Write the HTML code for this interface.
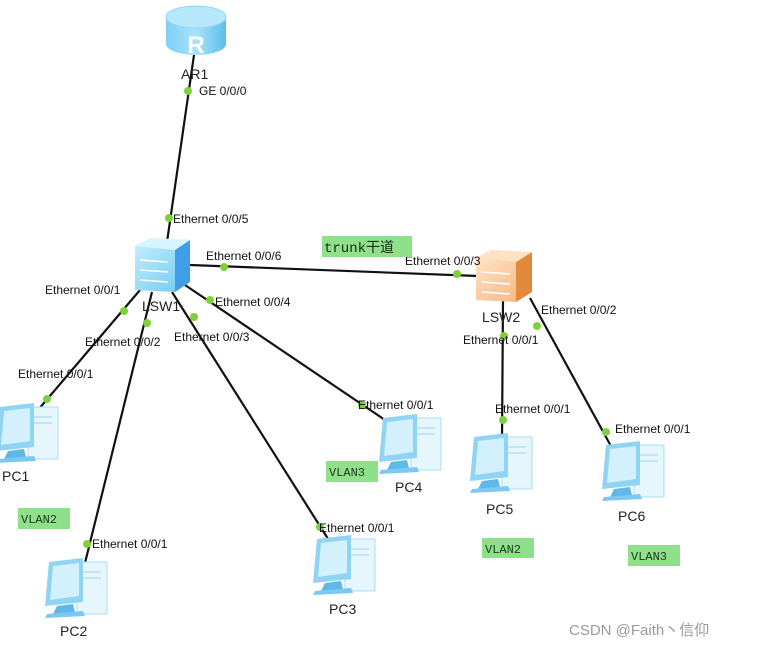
<!DOCTYPE html>
<html><head><meta charset="utf-8"><style>
html,body{margin:0;padding:0;background:#fff;width:758px;height:647px;overflow:hidden}
svg{display:block}
text{font-family:"Liberation Sans",Arial,sans-serif;fill:#111}
.l{font-size:12px}
.n{font-size:14px;fill:#222}
.v{font-family:"Liberation Mono","DejaVu Sans Mono",monospace;font-size:12px;fill:#1a3a1a}
</style></head><body>
<svg width="758" height="647" viewBox="0 0 758 647" xmlns="http://www.w3.org/2000/svg">
<defs>
<linearGradient id="rg" x1="0" y1="0" x2="1" y2="0"><stop offset="0" stop-color="#7fd0f5"/><stop offset="0.5" stop-color="#a9e2fb"/><stop offset="1" stop-color="#5cbdea"/></linearGradient>
<linearGradient id="sg" x1="0" y1="0" x2="1" y2="1"><stop offset="0" stop-color="#c8f0fd"/><stop offset="1" stop-color="#6cc8f0"/></linearGradient>
<linearGradient id="og" x1="0" y1="0" x2="1" y2="1"><stop offset="0" stop-color="#ffe7cc"/><stop offset="1" stop-color="#f5b27a"/></linearGradient>
<g id="pc">
 <rect x="34" y="4" width="30" height="52" fill="#e6f6fd" stroke="#a8dcf4"/>
 <line x1="40" y1="14" x2="58" y2="14" stroke="#9fd4ee"/>
 <line x1="40" y1="20" x2="58" y2="20" stroke="#9fd4ee"/>
 <polygon points="6,4 40,0 40,44 2,48" fill="#8fd3f5"/>
 <polygon points="10,8 36,5 36,38 7,42" fill="#d3f0fd"/>
 <polygon points="14,48 30,46 32,54 10,56" fill="#5fb8ea"/>
 <polygon points="4,56 40,53 42,58 2,60" fill="#7cc8f0"/>
</g>
</defs>

<!-- links -->
<g stroke="#111" stroke-width="2.2" fill="none">
<line x1="194" y1="55" x2="167" y2="242"/>
<line x1="190" y1="265" x2="478" y2="276"/>
<line x1="140" y1="290" x2="38" y2="410"/>
<line x1="152" y1="292" x2="82" y2="575"/>
<line x1="172" y1="292" x2="330" y2="542"/>
<line x1="185" y1="285" x2="388" y2="422"/>
<line x1="503" y1="300" x2="502" y2="440"/>
<line x1="530" y1="298" x2="612" y2="448"/>
</g>

<!-- router -->
<g>
 <path d="M166,17 L166,44 A30,11 0 0 0 226,44 L226,17 Z" fill="url(#rg)"/>
 <ellipse cx="196" cy="17" rx="30" ry="11" fill="#b6e8fc" stroke="#8ed6f7"/>
 <text x="196" y="53" text-anchor="middle" style="font-size:24px;fill:#fff;font-weight:bold">R</text>
</g>
<text class="n" x="181" y="79">AR1</text>

<!-- LSW1 -->
<polygon points="135,246 150,238 190,240 190,282 175,292 135,290" fill="url(#sg)"/>
<polygon points="175,250 190,240 190,282 175,292" fill="#3f9ee8"/>
<polygon points="135,246 150,238 190,240 175,250" fill="#d8f5fe"/>
<g stroke="#fff" stroke-width="1.6" fill="none"><path d="M140,260 L168,262 M140,270 L168,272 M140,280 L168,282"/></g>
<text class="n" x="142" y="311">LSW1</text>

<!-- LSW2 -->
<polygon points="476,258 491,250 532,252 532,292 516,302 476,300" fill="url(#og)"/>
<polygon points="516,262 532,252 532,292 516,302" fill="#e28a3c"/>
<polygon points="476,258 491,250 532,252 516,262" fill="#ffe2c4"/>
<g stroke="#fff" stroke-width="1.6" fill="none"><path d="M482,272 L510,274 M482,282 L510,284 M482,292 L510,294"/></g>
<text class="n" x="482" y="322">LSW2</text>

<!-- PCs -->
<use href="#pc" x="-6" y="403"/>
<use href="#pc" x="43" y="558"/>
<use href="#pc" x="311" y="535"/>
<use href="#pc" x="377" y="414"/>
<use href="#pc" x="468" y="433"/>
<use href="#pc" x="600" y="441"/>
<text class="n" x="2" y="481">PC1</text>
<text class="n" x="60" y="636">PC2</text>
<text class="n" x="329" y="614">PC3</text>
<text class="n" x="395" y="492">PC4</text>
<text class="n" x="486" y="514">PC5</text>
<text class="n" x="618" y="521">PC6</text>

<!-- dots -->
<g fill="#7ed13a">
<circle cx="188" cy="91" r="4"/><circle cx="169" cy="218" r="4"/>
<circle cx="224" cy="267" r="4"/><circle cx="457" cy="274" r="4"/>
<circle cx="124" cy="311" r="4"/><circle cx="47" cy="399" r="4"/>
<circle cx="147" cy="323" r="4"/><circle cx="87" cy="544" r="4"/>
<circle cx="194" cy="317" r="4"/><circle cx="320" cy="527" r="4"/>
<circle cx="210" cy="300" r="4"/><circle cx="362" cy="405" r="4"/>
<circle cx="504" cy="336" r="4"/><circle cx="503" cy="420" r="4"/>
<circle cx="537" cy="326" r="4"/><circle cx="606" cy="432" r="4"/>
</g>

<!-- port labels -->
<text class="l" x="199" y="95">GE 0/0/0</text>
<text class="l" x="173" y="223">Ethernet 0/0/5</text>
<text class="l" x="206" y="260">Ethernet 0/0/6</text>
<text class="l" x="405" y="265">Ethernet 0/0/3</text>
<text class="l" x="45" y="294">Ethernet 0/0/1</text>
<text class="l" x="18" y="378">Ethernet 0/0/1</text>
<text class="l" x="85" y="346">Ethernet 0/0/2</text>
<text class="l" x="92" y="548">Ethernet 0/0/1</text>
<text class="l" x="174" y="341">Ethernet 0/0/3</text>
<text class="l" x="319" y="532">Ethernet 0/0/1</text>
<text class="l" x="215" y="306">Ethernet 0/0/4</text>
<text class="l" x="358" y="409">Ethernet 0/0/1</text>
<text class="l" x="463" y="344">Ethernet 0/0/1</text>
<text class="l" x="495" y="413">Ethernet 0/0/1</text>
<text class="l" x="541" y="314">Ethernet 0/0/2</text>
<text class="l" x="615" y="433">Ethernet 0/0/1</text>

<!-- annotations -->
<rect x="322" y="236" width="90" height="21" fill="#8ee08a"/>
<text x="324" y="252" style="font-family:'Liberation Mono','Noto Sans CJK SC',monospace;font-size:14px;fill:#1a2a1a">trunk干道</text>
<rect x="18" y="508" width="52" height="21" fill="#8ee08a"/><text class="v" x="21" y="523">VLAN2</text>
<rect x="326" y="461" width="52" height="21" fill="#8ee08a"/><text class="v" x="329" y="476">VLAN3</text>
<rect x="482" y="538" width="52" height="20" fill="#8ee08a"/><text class="v" x="485" y="553">VLAN2</text>
<rect x="628" y="545" width="52" height="21" fill="#8ee08a"/><text class="v" x="631" y="560">VLAN3</text>

<text x="569" y="635" style="font-family:'Liberation Sans','Noto Sans CJK SC',sans-serif;font-size:15px;fill:#9a9a9a">CSDN @Faith丶信仰</text>
</svg>
</body></html>
